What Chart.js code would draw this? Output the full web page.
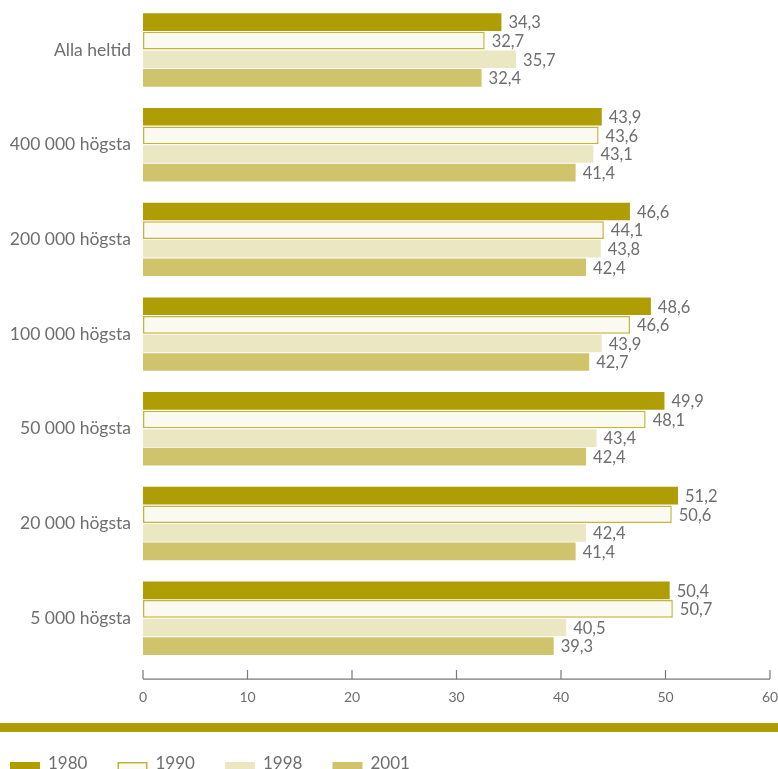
<!DOCTYPE html>
<html>
<head>
<meta charset="utf-8">
<script src="https://cdn.jsdelivr.net/npm/chart.js@4.4.0/dist/chart.umd.min.js"></script>
<style>
  html, body { margin: 0; padding: 0; background: #fff; overflow: hidden; }
</style>
</head>
<body>
<canvas id="chart" width="778" height="769"></canvas>
<script>
// data
const categories = ['Alla heltid', '400 000 högsta', '200 000 högsta', '100 000 högsta',
                    '50 000 högsta', '20 000 högsta', '5 000 högsta'];
const years = ['1980', '1990', '1998', '2001'];
const values1980 = [34.3, 43.9, 46.6, 48.6, 49.9, 51.2, 50.4];
const values1990 = [32.7, 43.6, 44.1, 46.6, 48.1, 50.6, 50.7];
const values1998 = [35.7, 43.1, 43.8, 43.9, 43.4, 42.4, 40.5];
const values2001 = [32.4, 41.4, 42.4, 42.7, 42.4, 41.4, 39.3];
const xTicks = [0, 10, 20, 30, 40, 50, 60];

const GREY = '#6e6e6e';
const GOLD = '#af9d06';
const FONT = 'Lato';

function fmt(v) {
    return v.toFixed(1).replace('.', ',');
}

// value labels at the end of each bar
const valueLabels = {
    id: 'valueLabels',
    afterDatasetsDraw(chart) {
        const ctx = chart.ctx;
        ctx.save();
        ctx.font = '16.5px ' + FONT;
        ctx.fillStyle = GREY;
        ctx.textAlign = 'left';
        ctx.textBaseline = 'middle';
        chart.data.datasets.forEach((ds, i) => {
            chart.getDatasetMeta(i).data.forEach((bar, j) => {
                ctx.fillText(fmt(ds.data[j]), bar.x + 7, bar.y + 1);
            });
        });
        ctx.restore();
    }
};

// axis line with upward ticks, gold band and legend
const decorations = {
    id: 'decorations',
    afterDraw(chart) {
        const ctx = chart.ctx;
        const x = chart.scales.x;
        const axisY = chart.chartArea.bottom + 13.5;
        ctx.save();
        ctx.strokeStyle = '#7a7a7a';
        ctx.lineWidth = 1.2;
        ctx.beginPath();
        ctx.moveTo(x.getPixelForValue(xTicks[0]), axisY);
        ctx.lineTo(x.getPixelForValue(xTicks[xTicks.length - 1]), axisY);
        xTicks.forEach(t => {
            const px = x.getPixelForValue(t);
            ctx.moveTo(px, axisY);
            ctx.lineTo(px, axisY - 9);
        });
        ctx.stroke();

        ctx.fillStyle = GOLD;
        ctx.fillRect(0, 723, chart.width, 9);

        ctx.font = '17px ' + FONT;
        ctx.textBaseline = 'middle';
        ctx.textAlign = 'left';
        chart.data.datasets.forEach((ds, i) => {
            const bx = 10 + i * 107.5;
            const by = 762;
            ctx.fillStyle = ds.backgroundColor;
            ctx.fillRect(bx, by, 30, 18);
            if (ds.borderWidth) {
                ctx.strokeStyle = ds.borderColor;
                ctx.lineWidth = ds.borderWidth;
                ctx.strokeRect(bx + 0.75, by + 0.75, 28.5, 16.5);
            }
            ctx.fillStyle = GREY;
            ctx.fillText(ds.label, bx + 38, by + 2);
        });
        ctx.restore();
    }
};

function noPadding(s) {
    s.paddingTop = 0;
    s.paddingBottom = 0;
    s.paddingLeft = 0;
    s.paddingRight = 0;
}

function barSet(label, data, fill, border, bw) {
    return {
        label: label,
        data: data,
        backgroundColor: fill,
        borderColor: border,
        borderWidth: bw,
        borderSkipped: false,
        categoryPercentage: 0.785,
        barPercentage: 0.95
    };
}

new Chart(document.getElementById('chart').getContext('2d'), {
    type: 'bar',
    data: {
        labels: categories,
        datasets: [
            barSet(years[0], values1980, GOLD, GOLD, 0),
            barSet(years[1], values1990, '#fafaf0', '#c3b33f', 1.5),
            barSet(years[2], values1998, '#ebe7c3', '#ebe7c3', 0),
            barSet(years[3], values2001, '#cfc46c', '#cfc46c', 0)
        ]
    },
    options: {
        indexAxis: 'y',
        responsive: false,
        animation: false,
        devicePixelRatio: 1,
        layout: {
            autoPadding: false,
            padding: { top: 2.6, right: 8, bottom: 63.4, left: 0 }
        },
        plugins: {
            legend: { display: false },
            tooltip: { enabled: false }
        },
        scales: {
            x: {
                min: 0,
                max: 60,
                afterFit: s => { s.height = 40; noPadding(s); },
                afterBuildTicks: s => { s.ticks = xTicks.map(v => ({ value: v })); },
                grid: { display: false, drawTicks: false },
                border: { display: false },
                ticks: {
                    padding: 23,
                    color: GREY,
                    font: { family: FONT, size: 14 }
                }
            },
            y: {
                afterFit: s => { s.width = 143; noPadding(s); },
                grid: { display: false, drawTicks: false },
                border: { display: false },
                ticks: {
                    padding: 12,
                    color: GREY,
                    font: { family: FONT, size: 17.5 }
                }
            }
        }
    },
    plugins: [valueLabels, decorations]
});
</script>
</body>
</html>
